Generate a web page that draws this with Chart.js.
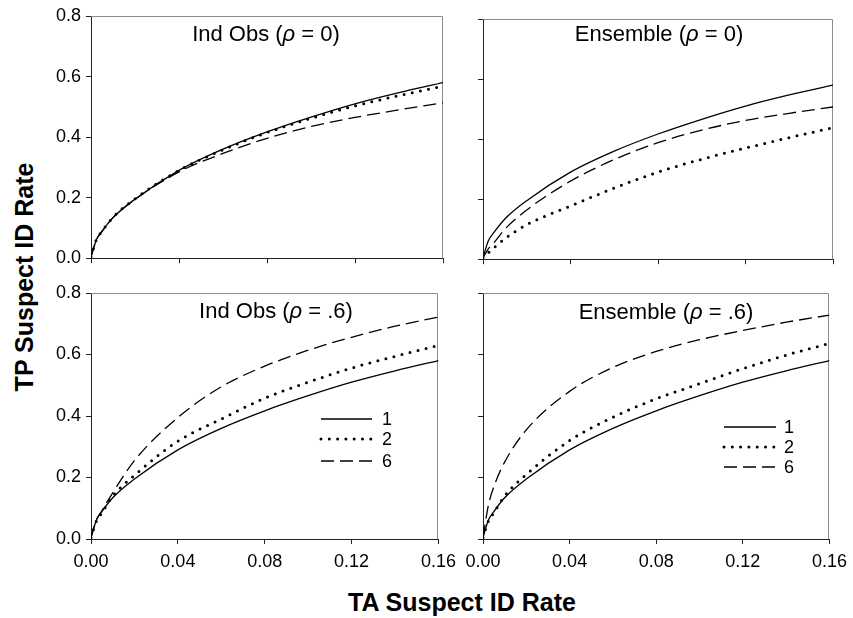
<!DOCTYPE html>
<html lang="en">
<head>
<meta charset="UTF-8" />
<title>TP vs TA Suspect ID Rate</title>
<script src="https://cdn.jsdelivr.net/npm/chart.js@4.4.0/dist/chart.umd.min.js"></script>
<style>
  html, body { margin:0; padding:0; background:#fff; }
  body { width:853px; height:618px; position:relative; overflow:hidden; font-family:'Liberation Sans', Arial, sans-serif; }
  canvas { position:absolute; }
  .axis-title { position:absolute; font-weight:bold; font-size:25px; line-height:1; color:#000; white-space:nowrap; }
  #yTitle { left:24px; top:277px; transform:translate(-50%,-50%) rotate(-90deg); }
  #xTitle { left:462px; top:602px; transform:translate(-50%,-50%); }
</style>
</head>
<body>
<div id="yTitle" class="axis-title">TP Suspect ID Rate</div>
<div id="xTitle" class="axis-title">TA Suspect ID Rate</div>

<script>
const xValues = [0, 0.0025, 0.005, 0.01, 0.02, 0.04, 0.06, 0.08, 0.10, 0.12, 0.14, 0.16];
const xTickValues = [0, 0.04, 0.08, 0.12, 0.16];
const xTickLabels = ['0.00', '0.04', '0.08', '0.12', '0.16'];
const yTickValues = [0, 0.2, 0.4, 0.6, 0.8];
const yTickLabels = ['0.0', '0.2', '0.4', '0.6', '0.8'];
const seriesLabels = ['1', '2', '6'];
const panelTitles = ['Ind Obs (ρ = 0)', 'Ensemble (ρ = 0)', 'Ind Obs (ρ = .6)', 'Ensemble (ρ = .6)'];

// 1 witness: same curve in all four panels
const oneWitness = [0.005, 0.062, 0.089, 0.134, 0.195, 0.290, 0.360, 0.417, 0.466, 0.510, 0.547, 0.580];
// Ind Obs, rho = 0
const indObs0Two = [0.005, 0.062, 0.089, 0.135, 0.196, 0.290, 0.358, 0.415, 0.462, 0.503, 0.537, 0.568];
const indObs0Six = [0.005, 0.061, 0.088, 0.134, 0.194, 0.285, 0.346, 0.396, 0.435, 0.465, 0.490, 0.513];
// Ensemble, rho = 0
const ens0Two = [0.004, 0.022, 0.038, 0.068, 0.115, 0.177, 0.237, 0.290, 0.333, 0.370, 0.405, 0.438];
const ens0Six = [0.004, 0.035, 0.055, 0.100, 0.164, 0.260, 0.332, 0.388, 0.430, 0.462, 0.486, 0.507];
// Ind Obs, rho = .6
const indObs6Two = [0.005, 0.058, 0.085, 0.139, 0.207, 0.318, 0.390, 0.458, 0.510, 0.556, 0.594, 0.630];
const indObs6Six = [0.005, 0.062, 0.092, 0.150, 0.255, 0.395, 0.495, 0.562, 0.614, 0.656, 0.692, 0.722];
// Ensemble, rho = .6
const ens6Two = [0.005, 0.058, 0.085, 0.140, 0.210, 0.320, 0.396, 0.456, 0.505, 0.554, 0.598, 0.636];
const ens6Six = [0.005, 0.110, 0.170, 0.250, 0.355, 0.480, 0.558, 0.610, 0.648, 0.678, 0.705, 0.728];

const FONT = "'Liberation Sans', Arial, sans-serif";
Chart.defaults.font.family = FONT;
Chart.defaults.color = '#000';

// page layout: plot area [left, top, right, bottom] in page pixels
const panels = [
  { title: panelTitles[0], two: indObs0Two, six: indObs0Six, area: [91, 16, 443, 262], yLabels: true,  xLabels: false, titleAt: [175, 25] },
  { title: panelTitles[1], two: ens0Two,    six: ens0Six,    area: [483, 19, 833, 263], yLabels: false, xLabels: false, titleAt: [176, 22] },
  { title: panelTitles[2], two: indObs6Two, six: indObs6Six, area: [91, 293, 443, 539], yLabels: true,  xLabels: true,  titleAt: [185, 25], legend: { x1: 230, x2: 281, tx: 291, ys: [126, 146, 168] } },
  { title: panelTitles[3], two: ens6Two,    six: ens6Six,    area: [483, 293, 834, 539], yLabels: false, xLabels: true,  titleAt: [183, 26], legend: { x1: 241, x2: 293, tx: 301, ys: [134, 154, 174] } }
];

const styles = [
  { borderWidth: 1.3, borderDash: [], borderCapStyle: 'butt' },
  { borderWidth: 3, borderDash: [0, 8.3], borderCapStyle: 'round' },
  { borderWidth: 1.3, borderDash: [13, 6], borderCapStyle: 'butt' }
];

const PAD_L = 60, PAD_T = 16, PAD_R = 20;

// gray top/right frame of each panel
const framePlugin = {
  id: 'frame',
  beforeDatasetsDraw(chart) {
    const {ctx, chartArea: a} = chart;
    ctx.save();
    ctx.strokeStyle = '#8c8c8c';
    ctx.lineWidth = 1;
    ctx.beginPath();
    ctx.moveTo(a.left, Math.round(a.top) + 0.5);
    ctx.lineTo(Math.round(a.right) - 0.5, Math.round(a.top) + 0.5);
    ctx.lineTo(Math.round(a.right) - 0.5, a.bottom);
    ctx.stroke();
    ctx.restore();
  }
};

// panel title (italic rho) and the in-plot legend
const notesPlugin = {
  id: 'notes',
  afterDraw(chart, args, opts) {
    const {ctx, chartArea: a} = chart;
    ctx.save();
    const parts = opts.title.split('ρ');
    const fN = '22px ' + FONT, fI = 'italic 22px ' + FONT;
    ctx.font = fN; const w0 = ctx.measureText(parts[0]).width, w2 = ctx.measureText(parts[1]).width;
    ctx.font = fI; const w1 = ctx.measureText('ρ').width;
    let x = a.left + opts.titleAt[0] - (w0 + w1 + w2) / 2;
    const y = a.top + opts.titleAt[1];
    ctx.fillStyle = '#000';
    ctx.textBaseline = 'alphabetic';
    ctx.textAlign = 'left';
    ctx.font = fN; ctx.fillText(parts[0], x, y); x += w0;
    ctx.font = fI; ctx.fillText('ρ', x, y); x += w1;
    ctx.font = fN; ctx.fillText(parts[1], x, y);

    if (opts.legend) {
      const lg = opts.legend;
      chart.data.datasets.forEach((ds, i) => {
        const ly = a.top + lg.ys[i];
        ctx.strokeStyle = '#000';
        ctx.lineWidth = ds.borderWidth;
        ctx.lineCap = ds.borderCapStyle;
        ctx.setLineDash(ds.borderDash);
        ctx.beginPath();
        ctx.moveTo(a.left + lg.x1, ly);
        ctx.lineTo(a.left + lg.x2, ly);
        ctx.stroke();
        ctx.setLineDash([]);
        ctx.font = '18px ' + FONT;
        ctx.textBaseline = 'middle';
        ctx.fillText(ds.label, a.left + lg.tx, ly + 1);
      });
    }
    ctx.restore();
  }
};

panels.forEach((p, idx) => {
  const [L, T, R, B] = p.area;
  const xAxisH = p.xLabels ? 32 : 12;
  const cv = document.createElement('canvas');
  cv.width = (R - L) + PAD_L + PAD_R;
  cv.height = (B - T) + PAD_T + xAxisH;
  cv.style.left = (L - PAD_L) + 'px';
  cv.style.top = (T - PAD_T) + 'px';
  document.body.appendChild(cv);

  const series = [oneWitness, p.two, p.six];
  new Chart(cv, {
    type: 'line',
    data: {
      datasets: series.map((vals, i) => ({
        label: seriesLabels[i],
        data: xValues.map((xv, k) => ({ x: xv, y: vals[k] })),
        borderColor: '#000',
        backgroundColor: '#000',
        pointRadius: 0,
        fill: false,
        cubicInterpolationMode: 'monotone',
        ...styles[i]
      }))
    },
    options: {
      responsive: false,
      animation: false,
      events: [],
      layout: { padding: { left: 0, top: PAD_T, right: PAD_R, bottom: 0 } },
      plugins: {
        legend: { display: false },
        tooltip: { enabled: false },
        notes: { title: p.title, titleAt: p.titleAt, legend: p.legend }
      },
      scales: {
        x: {
          type: 'linear', min: 0, max: 0.16,
          afterBuildTicks: s => { s.ticks = xTickValues.map(v => ({ value: v })); },
          afterFit: s => { s.height = xAxisH; },
          grid: { drawOnChartArea: false, drawTicks: true, tickLength: 5, color: '#222' },
          border: { display: true, color: '#222', width: 1 },
          ticks: {
            autoSkip: false, maxRotation: 0, padding: 7,
            font: { size: 18 }, color: '#000',
            callback: (v, i) => p.xLabels ? xTickLabels[i] : ''
          }
        },
        y: {
          type: 'linear', min: 0, max: 0.8,
          afterBuildTicks: s => { s.ticks = yTickValues.map(v => ({ value: v })); },
          afterFit: s => { s.width = PAD_L; },
          grid: { drawOnChartArea: false, drawTicks: true, tickLength: 5, color: '#222' },
          border: { display: true, color: '#222', width: 1 },
          ticks: {
            autoSkip: false, padding: 5,
            font: { size: 18 }, color: '#000',
            callback: (v, i) => p.yLabels ? yTickLabels[i] : ''
          }
        }
      }
    },
    plugins: [framePlugin, notesPlugin]
  });
});
</script>
</body>
</html>
